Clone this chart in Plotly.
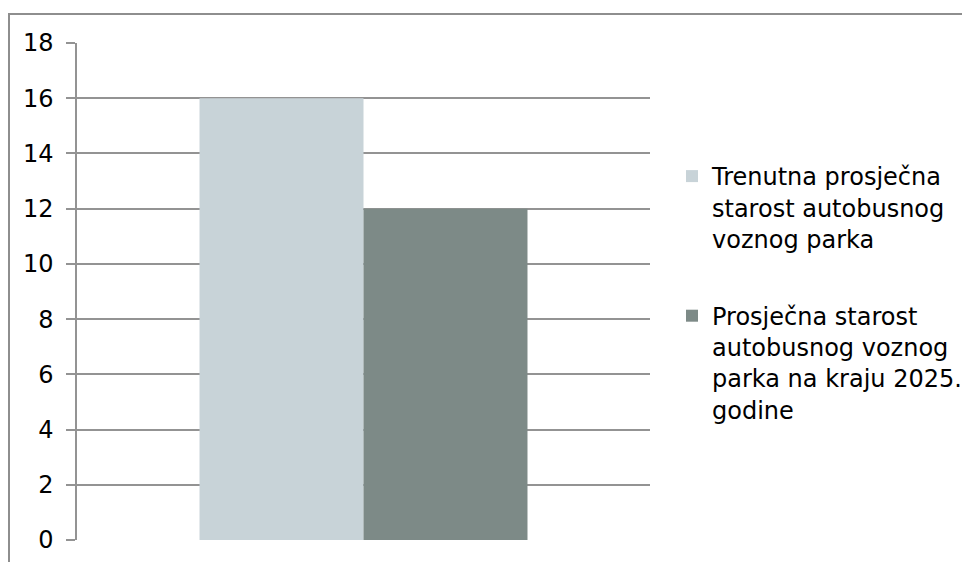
import plotly.graph_objects as go

categories = [""]
series_names = [
    "Trenutna prosječna<br>starost autobusnog<br>voznog parka",
    "Prosječna starost<br>autobusnog voznog<br>parka na kraju 2025.<br>godine",
]
series_values = [[16], [12]]
series_colors = ["#C8D3D8", "#7D8A87"]
y_ticks = [0, 2, 4, 6, 8, 10, 12, 14, 16, 18]

# page body has an 8px margin; work in figure coordinates (page - 8)
OFF = 8
W, H = 962, 554
L, R, T, B = 77 - OFF, W - (650 - OFF), 43 - OFF, H - (540 - OFF)
pw, ph = W - L - R, H - T - B

def px_x(x):
    return (x - OFF - L) / pw

def px_y(y):
    return (H - B - (y - OFF)) / ph

fig = go.Figure()
for i, (name, vals, col) in enumerate(zip(series_names, series_values, series_colors)):
    fig.add_trace(go.Bar(x=categories, y=vals, name=name, marker_color=col,
                         marker_line_width=0, legendgroup=f"g{i}"))

grid = "#939393"
fig.update_layout(
    width=W, height=H,
    margin=dict(l=L, r=R, t=T, b=B, autoexpand=False),
    paper_bgcolor="white", plot_bgcolor="white",
    barmode="group", bargap=0.4276, bargroupgap=0,
    font=dict(family="DejaVu Sans", size=24, color="#000000"),
    showlegend=True,
    legend=dict(x=px_x(672), y=px_y(154), xanchor="left", yanchor="top",
                valign="top", traceorder="grouped", tracegroupgap=43,
                font=dict(family="DejaVu Sans", size=24, color="#000000"),
                bgcolor="rgba(0,0,0,0)"),
    xaxis=dict(showticklabels=False, showgrid=False, zeroline=False,
               showline=False, ticks=""),
    yaxis=dict(range=[0, 18], tickvals=y_ticks, showgrid=True, gridcolor=grid,
               gridwidth=1.5, zeroline=False, showline=True, linecolor=grid,
               linewidth=1.5, ticks="outside", ticklen=9, tickcolor=grid,
               tickwidth=1.5, ticklabelstandoff=8,
               tickfont=dict(family="DejaVu Sans", size=24, color="#000000")),
    shapes=[dict(type="rect", xref="paper", yref="paper",
                 x0=px_x(9), x1=px_x(1000), y0=px_y(620), y1=px_y(14),
                 line=dict(color="#8E8E8E", width=2), fillcolor="rgba(0,0,0,0)",
                 layer="below")],
)
fig.write_html("out.html")
